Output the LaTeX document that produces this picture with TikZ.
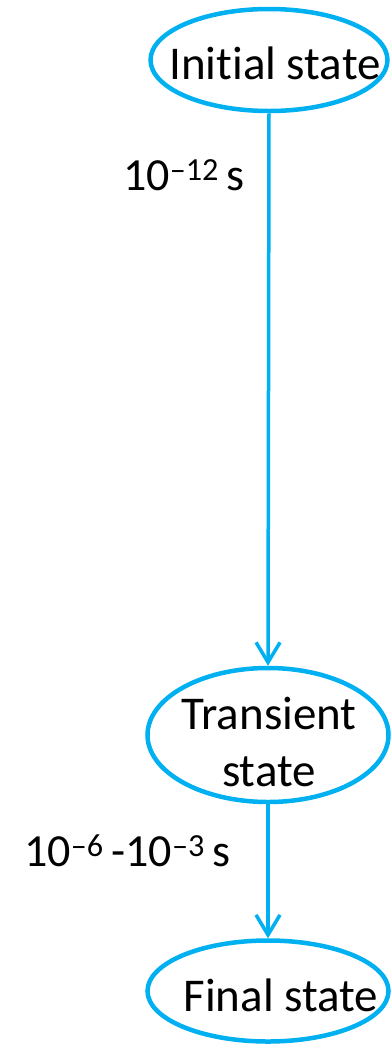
\documentclass[tikz,border=0pt]{standalone}
\usepackage{fontspec}
\setmainfont[Ligatures={NoCommon}]{Carlito}
\usetikzlibrary{shapes.geometric,arrows.meta}
\definecolor{cy}{RGB}{0,176,240}
\begin{document}
\begin{tikzpicture}[x=1pt,y=-1pt,
  st/.style={draw=cy,line width=4.5pt,ellipse,inner sep=0pt},
  txt/.style={font=\fontsize{47}{58}\selectfont,inner sep=0pt,align=center},
  conn/.style={draw=cy,line width=3.5pt,-{Straight Barb[length=20pt,width=24pt,line width=3.5pt]}},
  lab/.style={font=\fontsize{46}{54}\selectfont,inner sep=0pt}]
\useasboundingbox (0,0) rectangle (391,1045);
\node[st,minimum width=237pt,minimum height=102pt] (a) at (269,60) {};
\node[txt] (at) at (275,63) {Initial state};
\node[st,minimum width=241pt,minimum height=134pt] (b) at (268,735) {};
\node[txt] (bt) at (269,742) {Transient\\[-1pt]state};
\node[st,minimum width=241pt,minimum height=101pt] (c) at (268,991) {};
\node[txt] (ct) at (281,995) {Final state};
\draw[conn] (a.south) -- (b.north);
\draw[conn] (b.south) -- (c.north);
\node[lab,anchor=base west] (l1) at (123,190) {10\textsuperscript{–12}\,s};
\node[lab,anchor=base west] (l2) at (24,866) {10\textsuperscript{–6}\,-10\textsuperscript{–3}\,s};
\end{tikzpicture}
\end{document}
